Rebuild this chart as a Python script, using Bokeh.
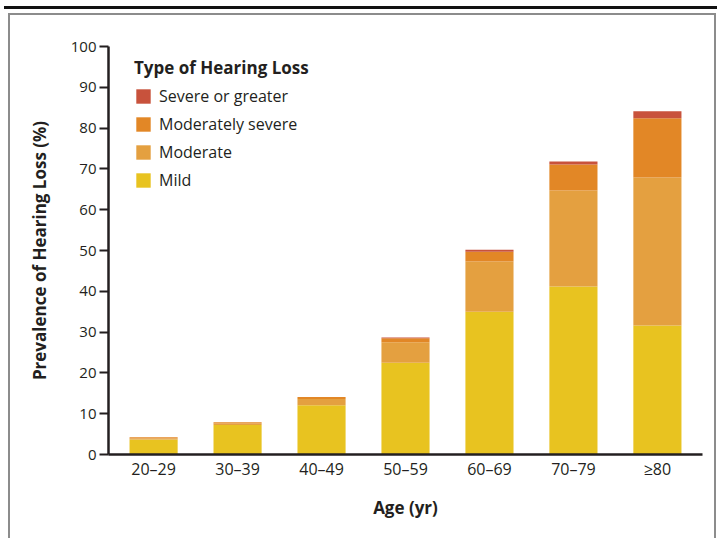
from bokeh.plotting import figure
from bokeh.models import FactorRange, Range1d, FixedTicker, Legend, LegendItem, ColumnDataSource
from bokeh.embed import file_html
from bokeh.resources import INLINE

# ---- data ----
categories = ["20\u201329", "30\u201339", "40\u201349", "50\u201359", "60\u201369", "70\u201379", "\u226580"]
mild = [3.7, 7.2, 12.1, 22.5, 35.0, 41.2, 31.6]
moderate = [0.2, 0.4, 1.5, 5.0, 12.3, 23.5, 36.3]
moderately_severe = [0.3, 0.3, 0.5, 1.0, 2.4, 6.4, 14.5]
severe_or_greater = [0.0, 0.0, 0.0, 0.2, 0.5, 0.7, 1.7]
series_names = ["Mild", "Moderate", "Moderately severe", "Severe or greater"]
series_keys = ["mild", "moderate", "modsev", "severe"]
colors = ["#E8C320", "#E4A040", "#E28726", "#C8523C"]
y_ticks = [0, 10, 20, 30, 40, 50, 60, 70, 80, 90, 100]

FONT = "Open Sans"
INK = "#231f20"

src = ColumnDataSource(dict(cat=categories, mild=mild, moderate=moderate,
                            modsev=moderately_severe, severe=severe_or_greater))

p = figure(width=721, height=538, output_backend="svg", toolbar_location=None,
           x_range=FactorRange(factors=categories, range_padding=0.0106),
           y_range=Range1d(0, 100),
           min_border_left=108, min_border_right=19, min_border_top=46, min_border_bottom=84)

rends = p.vbar_stack(series_keys, x="cat", width=0.573, color=colors, line_color=None, source=src)

p.background_fill_color = "white"
p.border_fill_alpha = 0          # let the page panel (CSS background) show through
p.outline_line_color = None
p.xgrid.grid_line_color = None
p.ygrid.grid_line_color = None

# page panel: black rule at top and grey panel border (CSS background layers)
p.styles = {
    "background": (
        "linear-gradient(#111111,#111111) 4px 6px / 713px 3px no-repeat, "
        "linear-gradient(#8c8c8c,#8c8c8c) 8px 13px / 708px 2px no-repeat, "
        "linear-gradient(#8c8c8c,#8c8c8c) 8px 13px / 2px 540px no-repeat, "
        "linear-gradient(#8c8c8c,#8c8c8c) 714px 13px / 2px 540px no-repeat, "
        "#ffffff"
    )
}

# axes
for ax in (p.xaxis[0], p.yaxis[0]):
    ax.axis_line_color = INK
    ax.axis_line_width = 2.5
    ax.major_label_text_font = FONT
    ax.major_label_text_color = INK
    ax.axis_label_text_font = FONT
    ax.axis_label_text_font_size = "17px"
    ax.axis_label_text_font_style = "bold"
    ax.axis_label_text_color = INK
    ax.minor_tick_line_color = None

p.yaxis.ticker = FixedTicker(ticks=y_ticks)
p.yaxis.major_label_text_font_size = "15px"
p.yaxis.major_tick_out = 9
p.yaxis.major_tick_in = 0
p.yaxis.major_tick_line_color = INK
p.yaxis.major_tick_line_width = 2
p.yaxis.major_label_standoff = 3
p.yaxis.axis_label = "Prevalence of Hearing Loss (%)"
p.yaxis.axis_label_standoff = 17

p.xaxis.major_label_text_font_size = "16px"
p.xaxis.major_tick_out = 0
p.xaxis.major_tick_in = 0
p.xaxis.major_tick_line_color = None
p.xaxis.major_label_standoff = 3
p.xaxis.axis_label = "Age (yr)"
p.xaxis.axis_label_standoff = 13

# legend
items = [LegendItem(label=series_names[i], renderers=[rends[i]]) for i in (3, 2, 1, 0)]
legend = Legend(items=items, location=(26, 263), title="Type of Hearing Loss",
                title_text_font=FONT, title_text_font_size="17px", title_text_font_style="bold",
                title_text_color=INK, title_standoff=6,
                label_text_font=FONT, label_text_font_size="16px", label_text_color=INK,
                glyph_width=18, glyph_height=18, label_height=18, spacing=6,
                label_standoff=7, padding=8, margin=0,
                border_line_color=None, background_fill_alpha=0)
p.add_layout(legend, "center")

open("out.html", "w").write(file_html(p, INLINE))
